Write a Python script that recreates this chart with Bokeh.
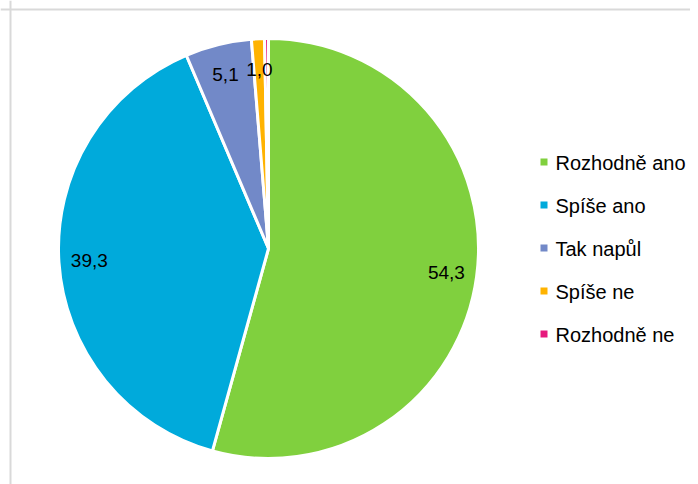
import math
from bokeh.plotting import figure
from bokeh.models import Range1d, Span, ColumnDataSource
from bokeh.core.properties import value
from bokeh.embed import file_html
from bokeh.resources import INLINE

categories = ["Rozhodně ano", "Spíše ano", "Tak napůl", "Spíše ne", "Rozhodně ne"]
values = [54.3, 39.3, 5.1, 1.0, 0.3]
labels = ["54,3", "39,3", "5,1", "1,0", ""]
colors = ["#80D03E", "#00AADB", "#7289C8", "#FFB300", "#E6197D"]

W, H = 690, 484
p = figure(width=W, height=H, output_backend="svg", toolbar_location=None,
           x_range=Range1d(0, W), y_range=Range1d(0, H), min_border=0)
p.axis.visible = False
p.grid.visible = False
p.outline_line_color = None
p.background_fill_color = "white"
p.border_fill_color = "white"

cx, cy, R = 268, H - 248, 210
total = sum(values)
starts, ends, lx, ly = [], [], [], []
cum = 0.0
for v in values:
    a0 = math.pi / 2 - 2 * math.pi * (cum + v) / total
    a1 = math.pi / 2 - 2 * math.pi * cum / total
    starts.append(a0)
    ends.append(a1)
    mid = (a0 + a1) / 2
    lx.append(cx + 0.855 * R * math.cos(mid))
    ly.append(cy + 0.855 * R * math.sin(mid))
    cum += v

src = ColumnDataSource(dict(start=starts, end=ends, color=colors, lx=lx, ly=ly, label=labels))
p.wedge(x=cx, y=cy, radius=R, start_angle="start", end_angle="end", fill_color="color",
        line_color="white", line_width=3, source=src)
p.text(x="lx", y="ly", text="label", source=src, text_align="center", text_baseline="middle",
       text_font=value("Liberation Sans"), text_font_size="19px", text_color="#000000")

# legend
leg_y = [H - (161.5 + 43 * i) for i in range(len(categories))]
lsrc = ColumnDataSource(dict(y=leg_y, color=colors, name=categories))
p.scatter(x=543.5, y="y", marker="square", size=7, fill_color="color", line_color=None, source=lsrc)
p.text(x=555, y="y", text="name", source=lsrc, text_align="left", text_baseline="middle",
       text_font=value("Liberation Sans"), text_font_size="20px", text_color="#000000",
       y_offset=1)

# chart border (top and left visible)
p.add_layout(Span(location=H - 9, dimension="width", line_color="#d9d9d9", line_width=2))
p.add_layout(Span(location=10, dimension="height", line_color="#d9d9d9", line_width=2))

open("out.html", "w").write(file_html(p, INLINE))
